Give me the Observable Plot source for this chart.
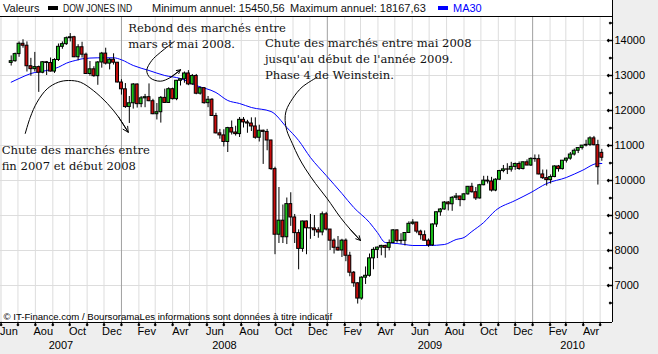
<!DOCTYPE html>
<html><head><meta charset="utf-8">
<script src="https://cdn.jsdelivr.net/npm/d3@7"></script>
<script src="https://cdn.jsdelivr.net/npm/@observablehq/plot@0.6"></script>
<style>
body{margin:0;background:#eeeeee;}
#wrap{position:relative;width:658px;height:354px;background:#eeeeee;overflow:hidden;}
#chart{position:absolute;left:0;top:0;}
#head{position:absolute;left:0;top:0;width:612px;height:16px;background:#fff;border-right:1px solid #000;font:11px "Liberation Sans",Arial,sans-serif;color:#111;}
#head span{position:absolute;top:2px;white-space:nowrap;line-height:12px;transform-origin:0 0;}
#head i{position:absolute;top:6px;width:10px;height:4px;}
</style></head><body>
<div id="wrap">
<div id="chart"></div>
<div id="head">
<span style="left:3px">Valeurs</span>
<i style="left:48px;background:#000"></i>
<span style="left:63px;transform:scaleX(0.78)">DOW JONES IND</span>
<span style="left:152px">Minimum annuel: 15450,56</span>
<span style="left:290px">Maximum annuel: 18167,63</span>
<i style="left:438px;background:#0000ff"></i>
<span style="left:453px;color:#0000ff">MA30</span>
</div>
</div>
<script>
// Weekly DOW JONES candles, week ending 2007-06-29 ... 2010-05-14
const opens = [
13360,13409,13612,13907,13851,13265,13182,13240,13079,13379,13358,13113,13443,13820,13896,14066,14093,13522,13807,13595,13043,13177,12981,13372,13626,13340,13451,
13366,12800,12606,12099,12207,12743,12182,12348,12381,12266,11894,11951,12361,12216,12609,12325,12849,12892,13058,12746,12987,12480,12638,12210,12307,11843,11347,11289,11101,11497,11371,11326,11734,11660,11628,11544,11221,11422,11388,11143,10325,8451,8852,8379,9325,8944,8497,8046,8829,8635,8630,8579,
8516,9035,8599,8281,8078,8001,8281,7850,7366,7063,6627,7224,7278,7776,8018,8083,8131,8076,8212,8575,8269,8277,8500,8763,8799,8540,8438,8281,8147,8744,9093,9172,9370,9321,9506,9544,9441,9605,9820,9665,9488,9865,9996,9972,9713,10023,10270,10318,10310,10389,10472,10329,10520,
10428,10618,10610,10173,10067,10012,10099,10402,10325,10566,10625,10742,10850,10927,10997,11019,11204,11009,10790];
const highs = [
13560,13640,13960,14022,13960,13490,13660,13270,13400,13400,13500,13480,13900,13960,14100,14198,14120,13880,13950,13640,13400,13250,13400,13660,13780,13480,13620,
13370,12880,12770,12400,12770,12760,12400,12460,12760,12320,12200,12400,12610,12650,12640,12860,12900,13100,13140,13030,13030,12670,12650,12400,12340,11920,11460,11450,11520,11700,11550,11800,11800,11720,11790,11790,11580,11440,11460,11150,10380,9800,9300,9500,9650,9030,8590,8840,8840,9030,9000,8650,
9100,9090,8600,8330,8400,8320,8330,7950,7400,7080,7250,7530,7900,8080,8100,8150,8150,8300,8600,8590,8480,8510,8820,8880,8800,8580,8560,8330,8760,9100,9200,9400,9400,9540,9630,9550,9630,9830,9920,9800,9890,10120,10120,10090,10050,10290,10430,10480,10520,10500,10530,10530,10590,
10650,10730,10730,10300,10300,10160,10420,10430,10570,10640,10800,10900,10940,11000,11150,11250,11260,11150,10890];
const lows = [
13270,13380,13520,13780,13100,12980,13100,12518,13050,13000,13100,13060,13400,13750,13860,13960,13510,13420,13500,13030,12980,12950,12720,13210,13300,13160,13300,
12790,12440,12060,11630,12040,12070,12080,12080,12250,11880,11730,11640,12200,12200,12300,12280,12700,12780,12710,12720,12450,12440,12180,12080,11830,11330,11180,10960,10800,11300,11270,11230,11500,11350,11400,11180,11100,10460,10850,10290,7880,8200,8200,8170,8690,8200,7449,7950,7880,8320,8400,8350,
8420,8560,8000,7900,7980,7800,7680,7250,6950,6470,6580,7030,7240,7450,7770,7850,7780,7990,8200,8210,8180,8130,8490,8720,8480,8300,8270,8090,8120,8660,8980,9150,9130,9120,9430,9250,9420,9580,9640,9430,9470,9850,9900,9670,9680,10010,10220,10170,10240,10290,10290,10300,10420,
10400,10520,10160,10030,9840,9900,10080,10240,10300,10500,10580,10700,10770,10870,10960,10970,10990,9870,10550];
const closes = [
13409,13612,13907,13851,13265,13182,13240,13079,13379,13358,13113,13443,13820,13896,14066,14093,13522,13807,13595,13043,13177,12981,13372,13626,13340,13451,13366,
12800,12606,12099,12207,12743,12182,12348,12381,12266,11894,11951,12361,12216,12609,12325,12849,12892,13058,12746,12987,12480,12638,12210,12307,11843,11347,11289,11101,11497,11371,11326,11734,11660,11628,11544,11221,11422,11388,11143,10325,8451,8852,8379,9325,8944,8497,8046,8829,8635,8630,8579,8516,
9035,8599,8281,8078,8001,8281,7850,7366,7063,6627,7224,7278,7776,8018,8083,8131,8076,8212,8575,8269,8277,8500,8763,8799,8540,8438,8281,8147,8744,9093,9172,9370,9321,9506,9544,9441,9605,9820,9665,9488,9865,9996,9972,9713,10023,10270,10318,10310,10389,10472,10329,10520,10428,
10618,10610,10173,10067,10012,10099,10402,10325,10566,10625,10742,10850,10927,10997,11019,11204,11009,10380,10650];

// MA30: week index -> value
const maWeek = [0,2,5,9,12,14,17,18,22,26,28,31,35,39,43,47,52,55,58,61,66,70,73,76,80,84,87,91,93,95,98,100,102,106,110,113,115,117,120,123,128,132,136,141,145,149,150];
const maValue = [12809,12914,13057,13143,13237,13351,13449,13477,13506,13506,13449,13286,13143,13000,12914,12714,12514,12286,12200,12086,11971,11514,11143,10657,10143,9629,9229,8800,8514,8229,8200,8171,8143,8143,8171,8314,8371,8543,8800,9143,9429,9657,9914,10086,10286,10486,10486];

const yLabels = [7000,8000,9000,10000,11000,12000,13000,14000];
const yMinor = [6500,7500,8500,9500,10500,11500,12500,13500,14500];
const monthNames = ["Jan","Fev","Mar","Avr","Mai","Jun","Jul","Aou","Sep","Oct","Nov","Dec"];

// annotations (date, value)
const arrowFall2007 = [["2007-07-14",11343],["2007-07-23",11809],["2007-08-04",12237],["2007-08-22",12620],["2007-09-11",12809],["2007-09-29",12857],["2007-10-20",12809],["2007-11-12",12571],["2007-12-07",12200],["2007-12-27",11809],["2008-01-13",11380]];
const arrowRebound = [["2008-04-04",13971],["2008-03-10",13657],["2008-02-24",13429],["2008-02-15",13143],["2008-02-21",12934],["2008-03-10",12837],["2008-03-28",12943],["2008-04-15",13163]];
const arrowFall2008 = [["2008-12-14",12951],["2008-11-17",12666],["2008-10-31",12334],["2008-10-20",12000],["2008-10-18",11714],["2008-10-21",11429],["2008-10-31",11049],["2008-11-11",10666],["2008-11-23",10334],["2008-12-11",9914],["2009-01-01",9477],["2009-01-24",8951],["2009-02-11",8600],["2009-03-01",8286]];
const notes = [
  {date:"2008-01-13", value:14577, text:"Rebond des marchés entre\nmars et mai 2008."},
  {date:"2008-09-12", value:14149, text:"Chute des marchés entre mai 2008\njusqu'au début de l'année 2009.\nPhase 4 de Weinstein."},
  {date:"2007-06-02", value:11091, text:"Chute des marchés entre\nfin 2007 et début 2008"}
];

const day = 864e5;
const dates = d3.utcFriday.range(new Date(Date.UTC(2007,5,29)), new Date(Date.UTC(2010,4,15)));
const candles = dates.map((date,i)=>({date, x:new Date(+date-10*day), open:opens[i], high:highs[i], low:lows[i], close:closes[i]}));
const ma = maWeek.map((w,k)=>({x:candles[w].x, v:maValue[k]}));
const toPts = a => a.map(([d,v])=>({x:new Date(d), v}));
const arrows = [arrowFall2007, arrowRebound, arrowFall2008].map(toPts);
const heads = arrows.map(p=>({x1:p[p.length-2].x, y1:p[p.length-2].v, x2:p[p.length-1].x, y2:p[p.length-1].v}));
const headLen = [11, 8, 14];

const x0 = new Date(Date.UTC(2007,4,31)), x1 = new Date(Date.UTC(2010,4,23));
const yMin = 5943, yMax = 14686;
const months = d3.utcMonth.range(x0, x1);
const years = d3.utcYear.range(x0, x1);
const midMonths = months.filter(m=>m.getUTCMonth()%2===1).map(m=>new Date(+m+14*day));
const yearMid = d3.range(2007,2011).map(yr=>{
  const a = Math.max(Date.UTC(yr,0,1), +x0), b = Math.min(Date.UTC(yr+1,0,1), +x1);
  return {x:new Date((a+b)/2), text:String(yr)};
});

const green = "#19c019", red = "#c80c0c";
const font = "Liberation Sans, Arial, sans-serif";

const chart = Plot.plot({
  width:658, height:354,
  marginLeft:0, marginRight:46, marginTop:16, marginBottom:32,
  x:{type:"utc", domain:[x0,x1], axis:null},
  y:{domain:[yMin,yMax], axis:null},
  style:{background:"transparent", overflow:"visible"},
  marks:[
    Plot.frame({fill:"#fff", stroke:null}),
    Plot.ruleX(months.filter(m=>m.getUTCMonth()!==0), {stroke:"#dddddd"}),
    Plot.ruleY(yLabels, {stroke:"#dddddd"}),
    Plot.ruleX(years, {stroke:"#a0a0a0"}),
    Plot.line(ma, {x:"x", y:"v", stroke:"#0000ff", strokeWidth:1, curve:"monotone-x"}),
    Plot.ruleX(candles, {x:"x", y1:"low", y2:"high", stroke:"#000", strokeWidth:1}),
    Plot.rect(candles, {x1:d=>new Date(+d.x-2.6*day), x2:d=>new Date(+d.x+2.6*day), y1:"open", y2:"close",
      fill:d=>d.close>=d.open?green:red, stroke:"#000", strokeWidth:1}),
    ...arrows.map(p=>Plot.line(p, {x:"x", y:"v", curve:"catmull-rom", stroke:"#000", strokeWidth:1})),
    ...heads.map((h,k)=>Plot.arrow([h], {x1:"x1", y1:"y1", x2:"x2", y2:"y2", stroke:"#000", strokeWidth:1, headLength:headLen[k], headAngle:55})),
    Plot.text(notes, {x:d=>new Date(d.date), y:"value", text:"text", textAnchor:"start", lineAnchor:"top",
      lineHeight:1.38, fontSize:11.6, fontFamily:"DejaVu Serif, serif", fill:"#111"}),
    Plot.text(["© IT-Finance.com / BoursoramaLes informations sont données à titre indicatif"], {frameAnchor:"bottom-left", dx:3, dy:-3, lineAnchor:"bottom", fontSize:9.6, fontFamily:font, fill:"#000"}),
    // frame lines
    Plot.ruleY([yMax], {stroke:"#000"}),
    Plot.ruleY([yMin], {stroke:"#000"}),
    Plot.ruleX([x1], {stroke:"#000"}),
    // y axis
    Plot.vectorY(yLabels, {y:d=>d, frameAnchor:"right", length:5, rotate:-90, anchor:"start", stroke:"#000"}),
    Plot.vectorY(yMinor, {y:d=>d, frameAnchor:"right", length:3, rotate:-90, anchor:"start", stroke:"#000"}),
    Plot.axisY(yLabels, {anchor:"right", tickSize:0, tickPadding:2, tickFormat:"d", fontSize:11, fontFamily:font, fill:"#000", label:null}),
    // x axis
    Plot.vectorX(months, {x:d=>d, frameAnchor:"bottom", length:3, rotate:180, anchor:"start", stroke:"#000"}),
    Plot.text(midMonths, {x:d=>d, frameAnchor:"bottom", dy:5, lineAnchor:"top", text:d=>monthNames[d.getUTCMonth()], fontSize:11, fontFamily:font, fill:"#000"}),
    Plot.text(yearMid, {x:"x", frameAnchor:"bottom", dy:19, lineAnchor:"top", text:"text", fontSize:11, fontFamily:font, fill:"#000"})
  ]
});
document.getElementById("chart").appendChild(chart);
</script>
</body></html>
